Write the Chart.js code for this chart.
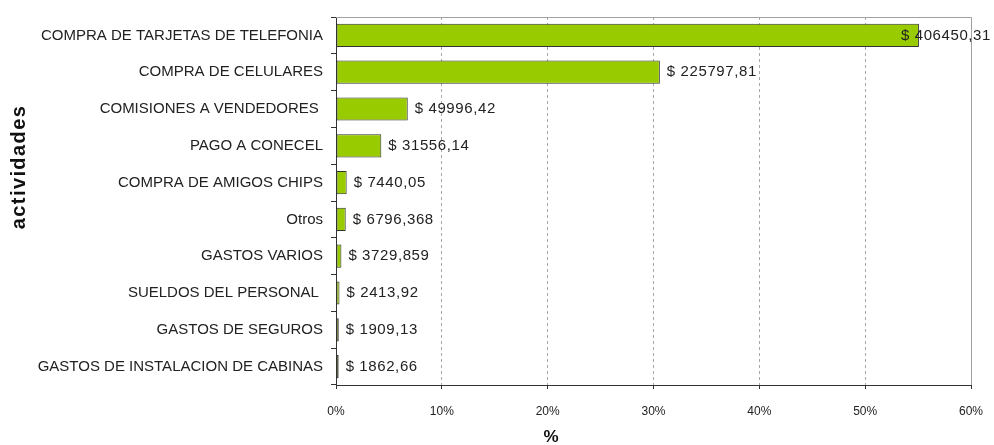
<!DOCTYPE html>
<html>
<head>
<meta charset="utf-8">
<script src="https://cdn.jsdelivr.net/npm/chart.js@4"></script>
<style>
  html, body { margin: 0; padding: 0; background: #fff; }
  #wrap { width: 994px; height: 445px; }
</style>
</head>
<body>
<div id="wrap"><canvas id="chart" width="994" height="445"></canvas></div>
<script>
// activities, ordered as in the picture (top to bottom)
const actividades = [
  "COMPRA DE TARJETAS DE TELEFONIA",
  "COMPRA DE CELULARES",
  "COMISIONES A VENDEDORES ",
  "PAGO A CONECEL",
  "COMPRA DE AMIGOS CHIPS",
  "Otros",
  "GASTOS VARIOS",
  "SUELDOS DEL PERSONAL ",
  "GASTOS DE SEGUROS",
  "GASTOS DE INSTALACION DE CABINAS"
];
// share of total, in %
const porcentajes = [55.08, 30.60, 6.78, 4.28, 1.01, 0.92, 0.51, 0.33, 0.26, 0.25];
// value labels shown next to each bar
const montos = [
  "$ 406450,31", "$ 225797,81", "$ 49996,42", "$ 31556,14", "$ 7440,05",
  "$ 6796,368", "$ 3729,859", "$ 2413,92", "$ 1909,13", "$ 1862,66"
];
const xTicks = [0, 10, 20, 30, 40, 50, 60];

const FONT = "'Liberation Sans', Arial, sans-serif";

// frame + titles + value labels
const extras = {
  id: "extras",
  beforeDatasetsDraw(chart) {
    const { ctx, chartArea: a } = chart;
    ctx.save();
    ctx.strokeStyle = "#a0a0a0";
    ctx.lineWidth = 1;
    ctx.beginPath();
    ctx.moveTo(a.left, a.top + 0.5);
    ctx.lineTo(a.right + 0.5, a.top + 0.5);
    ctx.lineTo(a.right + 0.5, a.bottom);
    ctx.stroke();
    ctx.restore();
  },
  afterDatasetsDraw(chart) {
    const { ctx } = chart;
    const meta = chart.getDatasetMeta(0);
    ctx.save();
    ctx.font = "15px " + FONT;
    ctx.letterSpacing = "0.6px";
    ctx.fillStyle = "#222";
    ctx.textBaseline = "middle";
    meta.data.forEach((bar, i) => {
      const w = ctx.measureText(montos[i]).width;
      let x = bar.x + 7;
      if (x + w > chart.width - 7) x = chart.width - 7 - w;
      ctx.fillText(montos[i], x + 4 * (x < bar.x), bar.y);
    });

    ctx.fillStyle = "#111";
    ctx.textAlign = "center";
    ctx.letterSpacing = "0px";
    ctx.font = "bold 17px " + FONT;
    ctx.fillText("%", 551, 437);
    ctx.translate(19, 167);
    ctx.rotate(-Math.PI / 2);
    ctx.font = "bold 20px " + FONT;
    ctx.letterSpacing = "1.4px";
    ctx.fillText("actividades", 0, 0);
    ctx.restore();
  }
};

new Chart(document.getElementById("chart"), {
  type: "bar",
  data: {
    labels: actividades,
    datasets: [{
      data: porcentajes,
      backgroundColor: "#99cc00",
      borderColor: "#333333",
      borderWidth: 1,
      borderSkipped: false,
      categoryPercentage: 1,
      barPercentage: 0.63
    }]
  },
  options: {
    indexAxis: "y",
    responsive: false,
    animation: false,
    layout: { padding: { top: 14, right: 23, left: 0, bottom: 0 } },
    plugins: { legend: { display: false }, tooltip: { enabled: false } },
    scales: {
      x: {
        min: 0,
        max: 60,
        afterBuildTicks: s => { s.ticks = xTicks.map(v => ({ value: v })); },
        afterFit: s => { s.height = 60; s.paddingLeft = 0; s.paddingRight = 0; },
        ticks: {
          callback: v => v + "%",
          color: "#222",
          font: { family: FONT, size: 12 },
          padding: 15
        },
        grid: {
          color: c => (c.tick && (c.tick.value === 0 || c.tick.value === 60)) ? "rgba(0,0,0,0)" : "#a8a8a8",
          tickColor: "#333",
          tickLength: 4,
          tickBorderDash: []
        },
        border: { color: "#333", width: 1, dash: [3, 3] }
      },
      y: {
        afterFit: s => { s.width = 336; },
        ticks: {
          color: "#222",
          font: { family: FONT, size: 15 },
          padding: 8
        },
        grid: {
          drawOnChartArea: false,
          tickColor: "#333",
          tickLength: 5,
          offset: true
        },
        border: { color: "#333", width: 1 }
      }
    }
  },
  plugins: [extras]
});
</script>
</body>
</html>
